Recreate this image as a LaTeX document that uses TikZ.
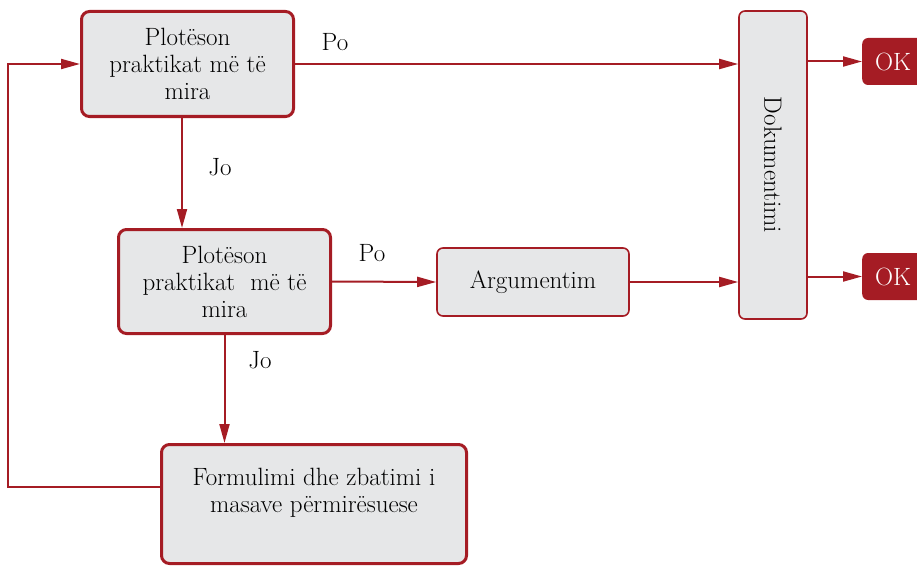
\documentclass[tikz,border=0pt]{standalone}
\usepackage{fontspec}
\usetikzlibrary{arrows.meta}
\definecolor{myred}{HTML}{A51C24}
\definecolor{mygray}{HTML}{E6E7E8}
\tikzstyle{bigbox}=[draw=myred,line width=3pt,fill=mygray,rounded corners=8pt,align=center]
\tikzstyle{smallbox}=[draw=myred,line width=1.6pt,fill=mygray,rounded corners=6pt,align=center]
\tikzstyle{okbox}=[fill=myred,text=white,rounded corners=6pt,minimum width=62pt,minimum height=47pt,anchor=west]
\tikzstyle{arr}=[myred,line width=2pt,-{Triangle[length=19pt,width=10pt]}]

\begin{document}
\begin{tikzpicture}[x=1pt,y=-1pt,font=\fontsize{25}{27}\selectfont]
	\clip (0,0) rectangle (917,567);
		\node[bigbox,minimum width=212pt,minimum height=105pt] (q1) at (187.5,64) {Plotëson\\praktikat më të\\mira};
		\node[bigbox,minimum width=212pt,minimum height=104pt] (q2) at (224.5,281.5) {Plotëson\\praktikat\ \ më të\\mira};
		\node[smallbox,minimum width=192pt,minimum height=68pt] (arg) at (533,282) {Argumentim};
		\node[smallbox,minimum width=68pt,minimum height=308pt] (dok) at (773,165) {\rotatebox{-90}{Dokumentimi}};
		\node[bigbox,minimum width=305pt,minimum height=119pt] (fix) at (314,504) {};
		\node[align=center] (fixtext) at (314,493) {Formulimi dhe zbatimi i\\masave përmirësuese};
		\node[okbox] (ok1) at (862,61.5) {OK};
		\node[okbox] (ok2) at (862,276.5) {OK};
	% labels
		\node (po1) at (335,42) {Po};
		\node (jo1) at (220,167) {Jo};
		\node (po2) at (372,253) {Po};
		\node (jo2) at (260,360) {Jo};
	% connectors
		\draw[arr] (q1.east) -- (q1.east -| dok.west);
		\draw[arr] ([xshift=-5.5pt]q1.south) -- ([xshift=-5.5pt]q1.south |- q2.north);
		\draw[arr] (q2.east) -- (arg.west);
		\draw[arr] (arg.east) -- (arg.east -| dok.west);
		\draw[arr] (q2.south) -- (q2.south |- fix.north);
		\coordinate (back) at (8,487);
		\draw[arr] ([yshift=17pt]fix.west) -- (back) |- (q1.west);
		\foreach \k in {ok1,ok2}{ \draw[arr] (dok.east |- \k.west) -- (\k.west);}
\end{tikzpicture}
\end{document}
